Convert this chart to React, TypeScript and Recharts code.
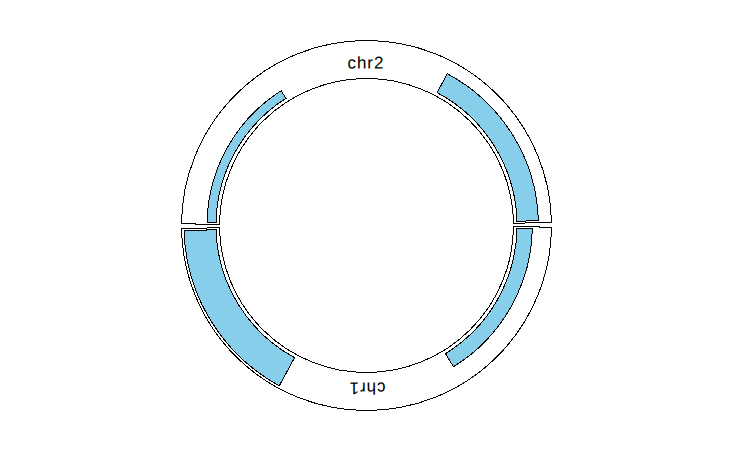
import React from 'react';
import { PieChart, Pie, Cell } from 'recharts';

// ---- data ----
const chromosomes = ['chr1', 'chr2'];
const chromLengths = [100, 100];

const barChrom = ['chr1', 'chr1', 'chr2', 'chr2'];
const barStart = [0.3, 66.1, 0.3, 65.8];
const barEnd = [32.4, 99.6, 32.0, 99.6];
const barValue = [0.48, 1.0, 0.28, 0.67];

// ---- layout / style ----
const W = 732;
const H = 452;
const CX = 366.5;
const CY = 225.5;
const START_DEG = -0.5;
const GAP_DEG = 1.4;
const CELL_INNER = 147;
const CELL_OUTER = 185;
const BASE_R = 150.5;
const TOP_R = 182.5;
const LABEL_R = 162.5;
const BAR_FILL = '#87CEEB';

const rScale = (v: number) => BASE_R + v * (TOP_R - BASE_R);

const totalLen = chromLengths.reduce((a, b) => a + b, 0);
const degPerUnit = (360 - GAP_DEG * chromosomes.length) / totalLen;
const chromAngles = (() => {
  let a = START_DEG;
  return chromosomes.map((c, i) => {
    const s = a;
    const e = a - chromLengths[i] * degPerUnit;
    a = e - GAP_DEG;
    return { s, e };
  });
})();

const renderLabel = (props: any) => {
  const { cx, cy, midAngle, name } = props;
  const rad = Math.PI / 180;
  const x = cx + LABEL_R * Math.cos(-midAngle * rad);
  const y = cy + LABEL_R * Math.sin(-midAngle * rad);
  const rot = 90 - midAngle;
  return (
    <text
      x={x}
      y={y}
      textAnchor="middle"
      dominantBaseline="central"
      transform={`rotate(${rot} ${x} ${y})`}
      fontFamily="'Liberation Sans', Arial, sans-serif"
      fontSize={17}
      letterSpacing={1}
      fill="#000"
    >
      {name}
    </text>
  );
};

export default function App() {
  return (
    <div style={{ position: 'absolute', left: 0, top: 0, width: W, height: H, background: '#fff' }}>
      <PieChart width={W} height={H} margin={{ top: 0, right: 0, bottom: 0, left: 0 }} style={{ shapeRendering: 'crispEdges' }}>
        {chromosomes.map((c, i) => (
          <Pie
            key={'cell-' + c}
            data={[{ name: c, value: chromLengths[i] }]}
            dataKey="value"
            nameKey="name"
            cx={CX}
            cy={CY}
            startAngle={chromAngles[i].s}
            endAngle={chromAngles[i].e}
            innerRadius={CELL_INNER}
            outerRadius={CELL_OUTER}
            fill="none"
            stroke="#000"
            strokeWidth={1}
            label={renderLabel}
            labelLine={false}
            isAnimationActive={false}
          />
        ))}
        {barChrom.map((c, j) => {
          const ci = chromosomes.indexOf(c);
          const data = [
            { name: 'before', value: barStart[j] },
            { name: 'bar', value: barEnd[j] - barStart[j] },
            { name: 'after', value: chromLengths[ci] - barEnd[j] },
          ];
          return (
            <Pie
              key={'bar-' + j}
              data={data}
              dataKey="value"
              nameKey="name"
              cx={CX}
              cy={CY}
              startAngle={chromAngles[ci].s}
              endAngle={chromAngles[ci].e}
              innerRadius={BASE_R}
              outerRadius={rScale(barValue[j])}
              isAnimationActive={false}
              labelLine={false}
            >
              {data.map((d, k) => (
                <Cell
                  key={k}
                  fill={k === 1 ? BAR_FILL : 'none'}
                  stroke={k === 1 ? '#000' : 'none'}
                  strokeWidth={1}
                />
              ))}
            </Pie>
          );
        })}
      </PieChart>
    </div>
  );
}
